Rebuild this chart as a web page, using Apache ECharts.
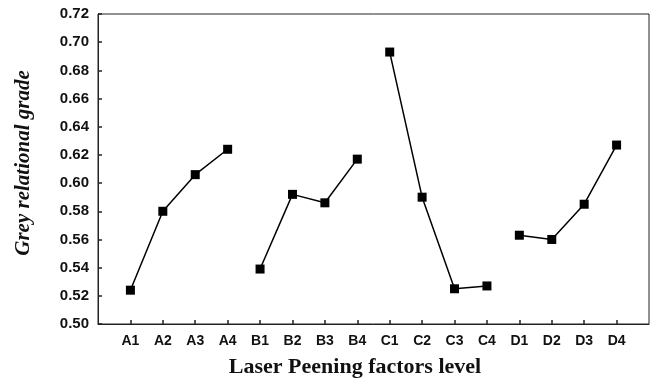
<!DOCTYPE html>
<html>
<head>
<meta charset="utf-8">
<script src="https://cdn.jsdelivr.net/npm/echarts@6/dist/echarts.min.js"></script>
<style>
  html, body { margin: 0; padding: 0; background: #fff; }
  #chart { width: 652px; height: 383px; }
</style>
</head>
<body>
<div id="chart"></div>
<script>
// Factor levels along the x axis, padded with one empty slot on each side
const levels = ['A1', 'A2', 'A3', 'A4', 'B1', 'B2', 'B3', 'B4',
                'C1', 'C2', 'C3', 'C4', 'D1', 'D2', 'D3', 'D4'];

// Mean grey relational grade for each level of each factor
const factorA = [0.524, 0.580, 0.606, 0.624];
const factorB = [0.539, 0.592, 0.586, 0.617];
const factorC = [0.693, 0.590, 0.525, 0.527];
const factorD = [0.563, 0.560, 0.585, 0.627];

const yTicks = { min: 0.50, max: 0.72, step: 0.02 };

const factors = [factorA, factorB, factorC, factorD];
const categories = [''].concat(levels, ['']);

// One line per factor; each occupies its own four slots on the shared axis
const series = factors.map((vals, f) => {
  const data = categories.map(() => '-');
  vals.forEach((v, i) => { data[1 + f * 4 + i] = v; });
  return {
    type: 'line',
    data: data,
    symbol: 'rect',
    symbolSize: 9,
    connectNulls: false,
    lineStyle: { color: '#000', width: 1.5 },
    itemStyle: { color: '#000' },
    emphasis: { disabled: true },
    animation: false
  };
});

const chart = echarts.init(document.getElementById('chart'));
chart.setOption({
  backgroundColor: '#fff',
  animation: false,
  grid: {
    left: 98, right: 2, top: 14, bottom: 59,
    show: true, borderColor: '#222', borderWidth: 1, backgroundColor: 'transparent'
  },
  xAxis: {
    type: 'category',
    data: categories,
    boundaryGap: false,
    axisLine: { lineStyle: { color: '#222', width: 1 } },
    axisTick: {
      inside: true, length: 4,
      lineStyle: { color: '#222', width: 1.5 },
      interval: (idx, val) => val !== ''
    },
    axisLabel: {
      interval: 0,
      margin: 10,
      color: '#111',
      fontFamily: 'Liberation Sans, Arial, sans-serif',
      fontWeight: 'bold',
      fontSize: 14
    },
    splitLine: { show: false }
  },
  yAxis: {
    type: 'value',
    min: yTicks.min, max: yTicks.max, interval: yTicks.step,
    axisLine: { show: true, lineStyle: { color: '#222', width: 1 } },
    axisTick: { show: true, inside: true, length: 4, lineStyle: { color: '#222', width: 1.5 } },
    axisLabel: {
      margin: 9,
      color: '#111',
      fontFamily: 'Liberation Sans, Arial, sans-serif',
      fontWeight: 'bold',
      fontSize: 15,
      formatter: v => v.toFixed(2)
    },
    splitLine: { show: false }
  },
  graphic: [
    {
      type: 'text',
      x: 24, y: 163,
      rotation: Math.PI / 2,
      style: {
        text: 'Grey relational grade',
        font: 'italic bold 21px "Liberation Serif", "Times New Roman", serif',
        fill: '#111',
        textAlign: 'center',
        textVerticalAlign: 'middle'
      }
    },
    {
      type: 'text',
      x: 355, y: 367,
      style: {
        text: 'Laser Peening factors level',
        font: 'bold 22px "Liberation Serif", "Times New Roman", serif',
        fill: '#111',
        textAlign: 'center',
        textVerticalAlign: 'middle'
      }
    }
  ],
  series: series
});
</script>
</body>
</html>
